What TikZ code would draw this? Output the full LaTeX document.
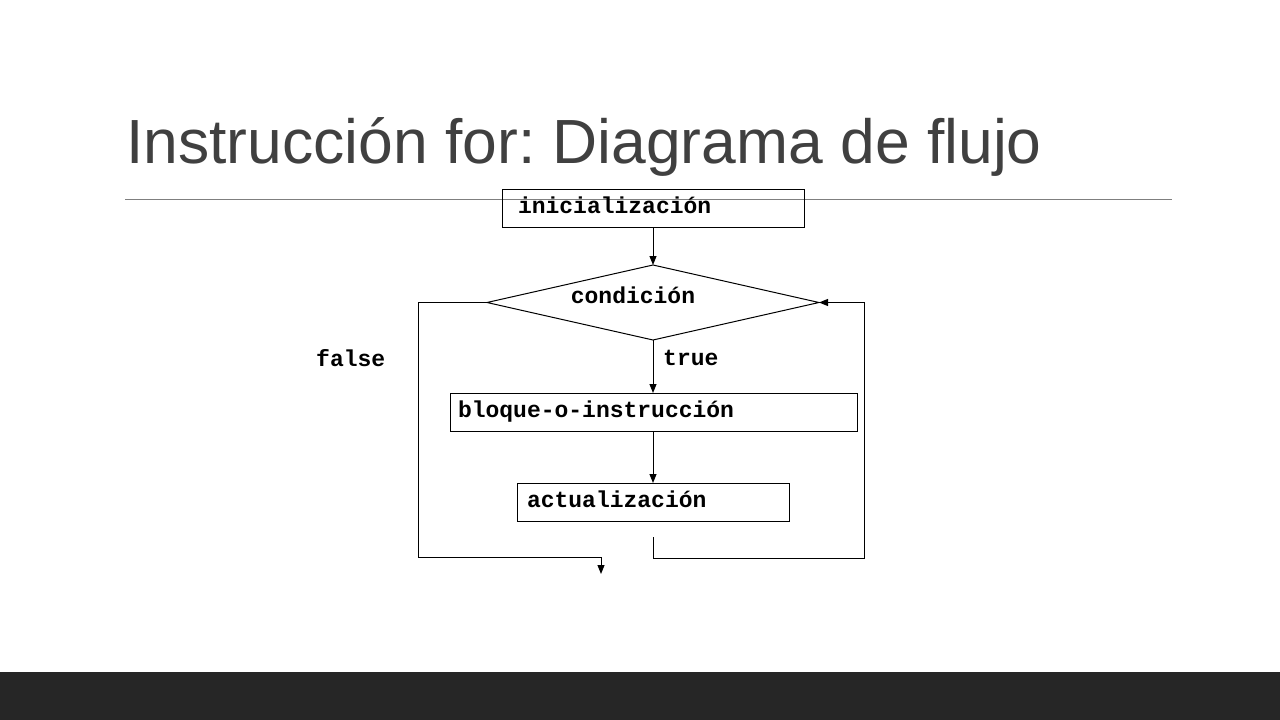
\documentclass[tikz,border=0pt]{standalone}
\usepackage{fontspec}
\setmainfont{Liberation Sans}
\newfontfamily\codefont{Liberation Mono}
\usetikzlibrary{arrows.meta,shapes.geometric}
\definecolor{titlegray}{HTML}{404040}
\definecolor{barcol}{HTML}{262626}
\definecolor{rulegray}{HTML}{7F7F7F}
\frenchspacing
\tikzset{
  box/.style={draw=black, line width=1pt, rectangle, inner sep=0pt, outer sep=0pt, minimum height=38pt, anchor=north west, align=left, font=\codefont\bfseries\fontsize{23}{23}\selectfont},
  codetxt/.style={inner sep=0pt, font=\codefont\bfseries\fontsize{23}{23}\selectfont},
  conn/.style={line width=1pt, draw=black},
  arr/.style={conn, -{Triangle[length=9pt,width=7pt]}},
}
\begin{document}
\begin{tikzpicture}[x=1pt,y=-1pt]
\useasboundingbox (0,0) rectangle (1280,720);
\fill[white] (0,0) rectangle (1280,720);
\fill[barcol] (0,672) rectangle (1280,720);
\node[anchor=base west, inner sep=0pt, text=titlegray, font=\fontsize{62.4}{62.4}\selectfont] (title) at (126,163) {Instrucción for: Diagrama de flujo};
\draw[rulegray, line width=1pt] (125,199) coordinate (rl) -- (1172,199) coordinate (rr);
% boxes
\node[box, text width=302pt] (ini) at (502,189) {\hspace*{16pt}inicialización\vphantom{p}};
\node[draw=black, line width=1pt, shape=diamond, minimum width=332pt, minimum height=75pt, inner sep=0pt, outer sep=0pt] (cond) at (653,302.5) {};
\node[codetxt, anchor=center] (condt) at (633,295) {condición};
\node[box, text width=407pt] (blq) at (450,393) {\hspace*{8pt}bloque-o-instrucción};
\node[box, text width=272pt] (act) at (517,483) {\hspace*{10pt}actualización\vphantom{p}};
\node[codetxt, anchor=west] (ftxt) at (316,358) {false};
\node[codetxt, anchor=west] (ttxt) at (663,358) {true};
% connectors
\draw[arr] (ini.south -| cond.north) -- (cond.north);
\draw[arr] (cond.south) -- (cond.south |- blq.north);
\draw[arr] (cond.south |- blq.south) -- (cond.south |- act.north);
\coordinate (fl1) at (418,302.5);
\coordinate (fl2) at (418,557);
\coordinate (fl3) at (601,557);
\coordinate (fout) at (601,574);
\draw[conn] (cond.west) -- (fl1) -- (fl2) -- (fl3);
\draw[arr] (fl3) -- (fout);
\coordinate (ls) at (653,537);
\coordinate (l2) at (653,558);
\coordinate (l3) at (864,558);
\coordinate (l4) at (864,302.5);
\draw[arr] (ls) -- (l2) -- (l3) -- (l4) -- (cond.east);
\end{tikzpicture}
\end{document}
